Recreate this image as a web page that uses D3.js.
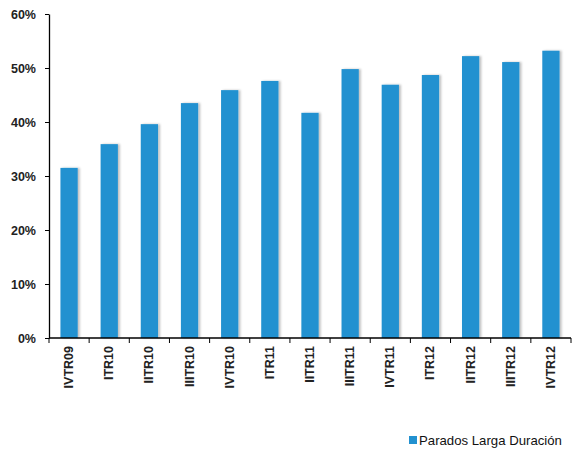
<!DOCTYPE html>
<html>
<head>
<meta charset="utf-8">
<script src="https://cdn.jsdelivr.net/npm/d3@7"></script>
<style>
  body { margin: 0; background: #fff; }
  svg { font-family: "Liberation Sans", Arial, sans-serif; }
</style>
</head>
<body>
<svg id="canvas"></svg>
<script>
const quarters = ["IVTR09", "ITR10", "IITR10", "IIITR10", "IVTR10", "ITR11", "IITR11",
                  "IIITR11", "IVTR11", "ITR12", "IITR12", "IIITR12", "IVTR12"];
const parados = [31.5, 35.9, 39.6, 43.5, 45.9, 47.6, 41.7, 49.8, 46.9, 48.7, 52.2, 51.1, 53.2];
const yTicks = [0, 10, 20, 30, 40, 50, 60];
const seriesName = "Parados Larga Duración";

const margins = { top: 14, right: 3, bottom: 114, left: 49 };
const width = 574 - margins.left - margins.right;
const height = 452 - margins.top - margins.bottom;

const svg = d3.select("#canvas")
    .attr("width", 574)
    .attr("height", 452);

const defs = svg.append("defs");
const shadow = defs.append("filter").attr("id", "shadow")
    .attr("x", "-20%").attr("y", "-5%").attr("width", "160%").attr("height", "110%");
shadow.append("feDropShadow")
    .attr("dx", 2).attr("dy", 0).attr("stdDeviation", 1.2)
    .attr("flood-color", "#000").attr("flood-opacity", 0.25);

const g = svg.append("g")
    .attr("transform", "translate(" + margins.left + "," + margins.top + ")");

const x = d3.scaleBand()
    .domain(quarters)
    .range([0, width])
    .paddingInner(0.57)
    .paddingOuter(0.285);

const y = d3.scaleLinear()
    .domain([0, 60])
    .range([height, 0]);

// bars
g.append("g")
    .selectAll("rect")
    .data(quarters)
    .enter()
    .append("rect")
    .attr("x", (d, i) => x(d))
    .attr("y", (d, i) => y(parados[i]))
    .attr("width", x.bandwidth())
    .attr("height", (d, i) => height - y(parados[i]))
    .attr("fill", "#2291d0")
    .attr("filter", "url(#shadow)");

// y axis
const yAxis = g.append("g")
    .call(d3.axisLeft(y).tickValues(yTicks).tickFormat(d => d + "%").tickSize(4).tickSizeOuter(0));
yAxis.select(".domain").attr("stroke", "#000").attr("stroke-width", 1.3);
yAxis.selectAll(".tick line").attr("stroke", "#000");
yAxis.selectAll(".tick text")
    .attr("x", -13)
    .attr("font-size", 12.5)
    .attr("font-weight", "bold")
    .attr("fill", "#222");

// x axis with ticks at category boundaries
const step = x.step();
const xAxis = g.append("g")
    .attr("transform", "translate(0," + height + ")");
xAxis.append("line")
    .attr("x1", 0).attr("x2", width)
    .attr("stroke", "#000").attr("stroke-width", 1.3);
xAxis.selectAll(".bound")
    .data(d3.range(quarters.length + 1))
    .enter()
    .append("line")
    .attr("x1", i => i * step).attr("x2", i => i * step)
    .attr("y1", 0).attr("y2", 5)
    .attr("stroke", "#000");
xAxis.selectAll(".lbl")
    .data(quarters)
    .enter()
    .append("text")
    .attr("transform", d => "translate(" + (x(d) + x.bandwidth() / 2 + 4) + ",8) rotate(-90)")
    .attr("text-anchor", "end")
    .attr("font-size", 12.5)
    .attr("font-weight", "bold")
    .attr("fill", "#222")
    .text(d => d);

// legend
const legend = svg.append("g").attr("transform", "translate(409,436)");
legend.append("rect")
    .attr("width", 8).attr("height", 8)
    .attr("fill", "#2291d0");
legend.append("text")
    .attr("x", 10).attr("y", 9)
    .attr("font-size", 13.2)
    .attr("fill", "#111")
    .text(seriesName);
</script>
</body>
</html>
